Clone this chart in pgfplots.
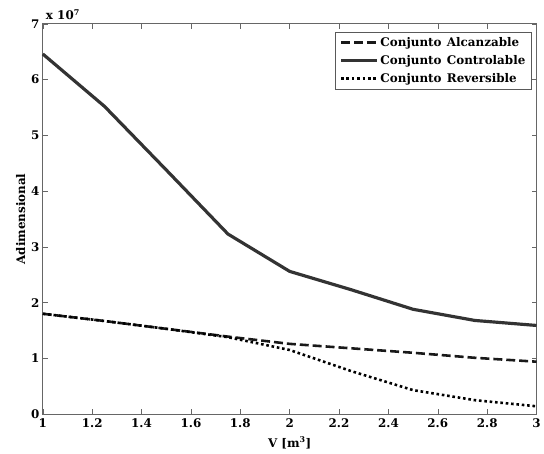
\documentclass[border=0pt]{standalone}
\usepackage{fontspec}
\setmainfont{DejaVu Serif}
\usepackage{pgfplots}
\pgfplotsset{compat=1.18}
\newcommand{\lblfont}{\fontsize{12}{14}\selectfont\bfseries}
\newcommand{\gap}{\hspace{0.45em}}
\begin{document}
\begin{tikzpicture}[font=\lblfont]
\begin{axis}[
  scale only axis,
  clip=false,
  width=496bp, height=392bp,
  xmin=1, xmax=3, ymin=0, ymax=7,
  xtick={1,1.2,...,3.01},
  ytick={0,1,...,7},
  xticklabels={1,1.2,1.4,1.6,1.8,2,2.2,2.4,2.6,2.8,3},
  tick align=inside,
  major tick length=5bp,
  tick style={gray!80!black, line width=0.6pt},
  axis line style={gray!80!black, line width=0.8pt},
  tick label style={font=\lblfont},
  /pgf/number format/assume math mode=true,
  xticklabel style={yshift=-1.5bp},
  yticklabel style={xshift=0bp},
  xlabel={V [m\textsuperscript{3}]},
  ylabel={Adimensional},
  label style={font=\lblfont},
  xlabel style={yshift=-2bp},
  ylabel style={yshift=-1bp},
  legend style={draw=gray!70!black, line width=0.6pt, at={(0.99,0.98)}, anchor=north east,
    font=\lblfont, row sep=3.5bp, inner xsep=4bp, inner ysep=3.5bp,
    /tikz/every even column/.append style={column sep=2bp}},
  legend cell align=left,
  legend image code/.code={\draw[#1] (0bp,0bp) -- (36bp,0bp);},
]
\addplot[black!90, line width=2.6pt, dash pattern=on 9bp off 4bp] coordinates {
  (1,1.80) (1.25,1.67) (1.5,1.53) (1.75,1.39) (2,1.26) (2.25,1.18)
  (2.5,1.10) (2.75,1.01) (3,0.94)};
\addlegendentry{Conjunto\gap Alcanzable}
\addplot[black!80, line width=3.2pt] coordinates {
  (1,6.46) (1.25,5.52) (1.5,4.38) (1.75,3.23) (2,2.56) (2.25,2.23)
  (2.5,1.88) (2.75,1.68) (3,1.59)};
\addlegendentry{Conjunto\gap Controlable}
\addplot[black, line width=2.6pt, dash pattern=on 2.6bp off 2.8bp] coordinates {
  (1,1.80) (1.25,1.67) (1.5,1.53) (1.75,1.38) (2,1.15) (2.25,0.77)
  (2.5,0.43) (2.75,0.25) (3,0.14)};
\addlegendentry{Conjunto\gap Reversible}
\node[anchor=south west, inner sep=0pt, font=\lblfont]
  at ([xshift=3bp,yshift=4bp]rel axis cs:0,1) {x 10\textsuperscript{7}};
\end{axis}
% white margin around the axis
\path ([shift={(-43bp,-40bp)}]current axis.south west)
  rectangle ([shift={(6bp,24bp)}]current axis.north east);
\end{tikzpicture}
\end{document}
